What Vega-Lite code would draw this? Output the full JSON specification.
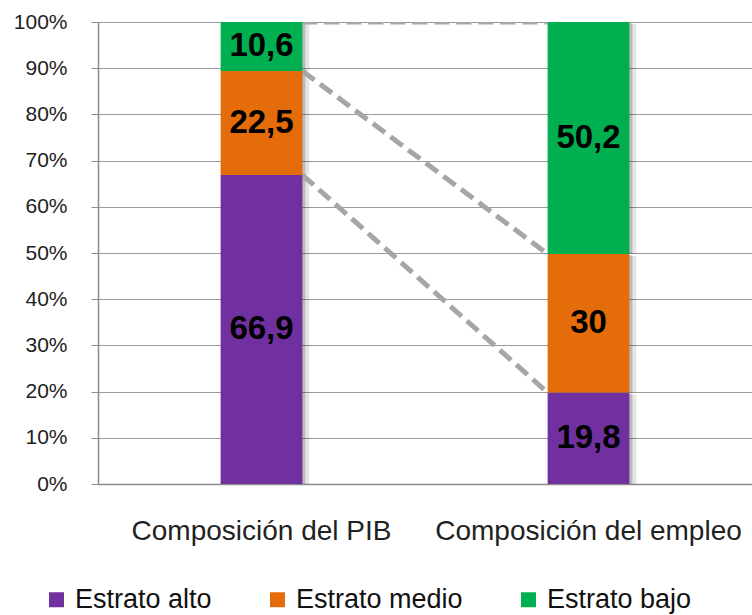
{
  "$schema": "https://vega.github.io/schema/vega-lite/v6.json",
  "autosize": {"type": "none"},
  "padding": {"left": 98, "top": 22, "right": 0, "bottom": 131},
  "width": 654,
  "height": 462,
  "background": "white",
  "datasets": {
    "segmentos": [
      {"columna": "Composición del PIB", "estrato": "Estrato alto", "orden": 1, "valor": 66.9},
      {"columna": "Composición del PIB", "estrato": "Estrato medio", "orden": 2, "valor": 22.5},
      {"columna": "Composición del PIB", "estrato": "Estrato bajo", "orden": 3, "valor": 10.6},
      {"columna": "Composición del empleo", "estrato": "Estrato alto", "orden": 1, "valor": 19.8},
      {"columna": "Composición del empleo", "estrato": "Estrato medio", "orden": 2, "valor": 30},
      {"columna": "Composición del empleo", "estrato": "Estrato bajo", "orden": 3, "valor": 50.2}
    ],
    "conectores": [
      {"desde": "Composición del PIB", "hasta": "Composición del empleo", "inicio": 100, "fin": 100},
      {"desde": "Composición del PIB", "hasta": "Composición del empleo", "inicio": 89.4, "fin": 49.8},
      {"desde": "Composición del PIB", "hasta": "Composición del empleo", "inicio": 66.9, "fin": 19.8}
    ]
  },
  "encoding": {
    "x": {
      "field": "columna",
      "type": "nominal",
      "sort": ["Composición del PIB", "Composición del empleo"],
      "scale": {"domain": ["Composición del PIB", "Composición del empleo"], "paddingInner": 0.75, "paddingOuter": 0.375},
      "axis": {
        "title": null,
        "labelAngle": 0,
        "ticks": false,
        "labelFontSize": 28,
        "labelFont": "Liberation Sans",
        "labelColor": "#222222",
        "labelPadding": 33,
        "labelLimit": 0,
        "labelOverlap": false,
        "labelBound": false,
        "domainColor": "#8c8c8c",
        "domainWidth": 1.5
      }
    }
  },
  "layer": [
    {
      "data": {"name": "segmentos"},
      "transform": [
        {"stack": "valor", "groupby": ["columna"], "sort": [{"field": "orden", "order": "ascending"}], "as": ["y0", "y1"]}
      ],
      "mark": {"type": "bar", "xOffset": 3, "yOffset": 1, "color": "#000000", "opacity": 0.18},
      "encoding": {
        "y": {"field": "y1", "type": "quantitative", "scale": {"domain": [0, 100]},
          "axis": {
            "title": null,
            "values": [0, 10, 20, 30, 40, 50, 60, 70, 80, 90, 100],
            "labelExpr": "datum.value + '%'",
            "labelFontSize": 21,
            "labelFont": "Liberation Sans",
            "labelColor": "#222222",
            "labelPadding": 24,
            "tickSize": 7,
            "tickColor": "#8c8c8c",
            "domainColor": "#8c8c8c",
            "domainWidth": 1.5,
            "grid": true,
            "gridColor": "#9a9a9a",
            "gridWidth": 1
          }
        },
        "y2": {"field": "y0"}
      }
    },
    {
      "data": {"name": "segmentos"},
      "transform": [
        {"stack": "valor", "groupby": ["columna"], "sort": [{"field": "orden", "order": "ascending"}], "as": ["y0", "y1"]}
      ],
      "mark": {"type": "bar", "xOffset": 7, "yOffset": 2, "color": "#000000", "opacity": 0.1},
      "encoding": {
        "y": {"field": "y1", "type": "quantitative"},
        "y2": {"field": "y0"}
      }
    },
    {
      "data": {"name": "conectores"},
      "mark": {"type": "rule", "color": "#a6a6a6", "strokeWidth": 5, "strokeDash": [15, 7], "clip": true},
      "encoding": {
        "x": {"field": "desde", "type": "nominal", "bandPosition": 1},
        "x2": {"field": "hasta", "bandPosition": 0},
        "y": {"field": "inicio", "type": "quantitative"},
        "y2": {"field": "fin"}
      }
    },
    {
      "data": {"name": "segmentos"},
      "transform": [
        {"stack": "valor", "groupby": ["columna"], "sort": [{"field": "orden", "order": "ascending"}], "as": ["y0", "y1"]}
      ],
      "mark": {"type": "bar"},
      "encoding": {
        "y": {"field": "y1", "type": "quantitative"},
        "y2": {"field": "y0"},
        "color": {
          "field": "estrato",
          "type": "nominal",
          "scale": {"domain": ["Estrato alto", "Estrato medio", "Estrato bajo"], "range": ["#7030A0", "#E46C0A", "#00B050"]},
          "legend": {
            "title": null,
            "orient": "none",
            "direction": "horizontal",
            "legendX": -55,
            "legendY": 564,
            "symbolType": "square",
            "symbolSize": 225,
            "symbolStrokeWidth": 0,
            "labelFontSize": 27,
            "labelFont": "Liberation Sans",
            "labelColor": "#111111",
            "labelOffset": 5,
            "labelLimit": 0,
            "columnPadding": 52
          }
        }
      }
    },
    {
      "data": {"name": "segmentos"},
      "transform": [
        {"stack": "valor", "groupby": ["columna"], "sort": [{"field": "orden", "order": "ascending"}], "as": ["y0", "y1"]},
        {"calculate": "(datum.y0 + datum.y1) / 2", "as": "centro"}
      ],
      "mark": {"type": "text", "font": "Liberation Sans", "fontWeight": "bold", "fontSize": 33, "color": "#000000", "baseline": "middle", "align": "center"},
      "encoding": {
        "y": {"field": "centro", "type": "quantitative"},
        "text": {"field": "valor", "type": "quantitative", "format": ".1~f"}
      }
    }
  ],
  "config": {
    "view": {"stroke": null},
    "locale": {"number": {"decimal": ",", "thousands": ".", "grouping": [3], "currency": ["", " €"]}}
  }
}
